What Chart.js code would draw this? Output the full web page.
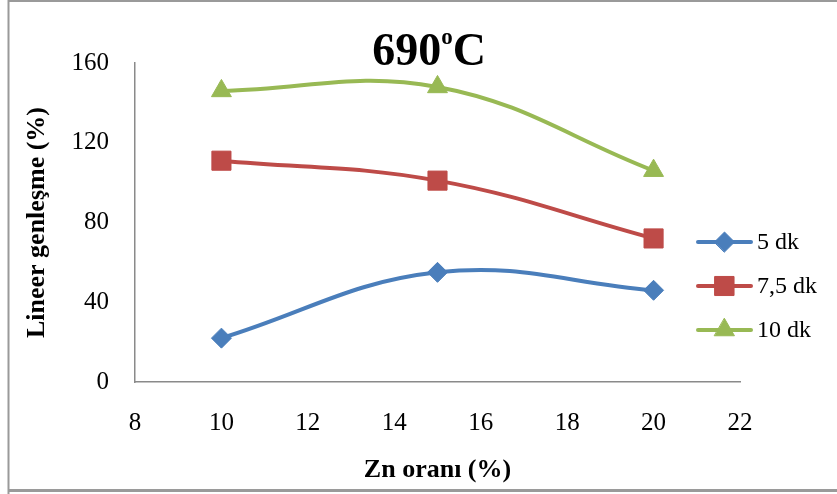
<!DOCTYPE html>
<html>
<head>
<meta charset="utf-8">
<script src="https://cdn.jsdelivr.net/npm/chart.js@4/dist/chart.umd.min.js"></script>
<style>
  html, body { margin: 0; padding: 0; background: #ffffff; }
  #wrap { position: relative; width: 837px; height: 494px; }
</style>
</head>
<body>
<div id="wrap"><canvas id="c" width="837" height="494"></canvas></div>
<script>
// Zn content (%) on the x axis
const znRatio = [10, 15, 20];
// Linear expansion (%) per holding time
const series5dk = [22, 55, 46];
const series75dk = [111, 101, 72];
const series10dk = [146, 148, 106];
const seriesNames = ['5 dk', '7,5 dk', '10 dk'];
const xTickValues = [8, 10, 12, 14, 16, 18, 20, 22];
const yTickValues = [0, 40, 80, 120, 160];

const SERIF = '"Liberation Serif", "Times New Roman", serif';
const COLORS = ['#4A7EBB', '#BE4B48', '#98B954'];
const STYLES = [
  { pointStyle: 'rectRot', radius: 10 },
  { pointStyle: 'rect', radius: 13.5 },
  { pointStyle: 'triangle', radius: 11.5 }
];

function toPoints(xs, ys) {
  return xs.map((x, i) => ({ x: x, y: ys[i] }));
}

function makeDataset(i, values) {
  return {
    label: seriesNames[i],
    data: toPoints(znRatio, values),
    borderColor: COLORS[i],
    backgroundColor: COLORS[i],
    borderWidth: 4,
    borderCapStyle: 'round',
    tension: 0.4,
    pointStyle: STYLES[i].pointStyle,
    pointRadius: STYLES[i].radius,
    pointHoverRadius: STYLES[i].radius,
    pointBorderWidth: 1,
    pointBorderColor: COLORS[i],
    pointBackgroundColor: COLORS[i]
  };
}

// Gray frame around the figure
const framePlugin = {
  id: 'frame',
  beforeDraw(chart) {
    const ctx = chart.ctx;
    ctx.save();
    ctx.strokeStyle = '#9a9a9a';
    ctx.lineWidth = 2;
    ctx.beginPath();
    ctx.moveTo(8.5, 494);
    ctx.lineTo(8.5, 1);
    ctx.lineTo(837, 1);
    ctx.stroke();
    ctx.lineWidth = 3;
    ctx.beginPath();
    ctx.moveTo(8, 490.5);
    ctx.lineTo(837, 490.5);
    ctx.stroke();
    ctx.restore();
  }
};

// Title "690°C" with a raised "o"
const titlePlugin = {
  id: 'supTitle',
  afterDraw(chart) {
    const ctx = chart.ctx;
    ctx.save();
    ctx.fillStyle = '#000000';
    ctx.textBaseline = 'alphabetic';
    ctx.textAlign = 'left';
    const big = 'bold 46px ' + SERIF;
    const small = 'bold 23px ' + SERIF;
    ctx.font = big;
    const wMain = ctx.measureText('690').width;
    const wC = ctx.measureText('C').width;
    ctx.font = small;
    const wO = ctx.measureText('o').width;
    const total = wMain + wO + wC;
    let x = 429 - total / 2;
    const base = 65;
    ctx.font = big;
    ctx.fillText('690', x, base);
    x += wMain;
    ctx.font = small;
    ctx.fillText('o', x, base - 21);
    x += wO;
    ctx.font = big;
    ctx.fillText('C', x, base);
    ctx.restore();
  }
};

function drawMarker(ctx, style, color, x, y) {
  const h = Chart.helpers;
  if (h && h.drawPoint) {
    ctx.fillStyle = color;
    ctx.strokeStyle = color;
    ctx.lineWidth = 1;
    h.drawPoint(ctx, { pointStyle: style.pointStyle, radius: style.radius, borderWidth: 1, rotation: 0 }, x, y);
    return;
  }
  const r = style.radius;
  ctx.fillStyle = color;
  ctx.beginPath();
  if (style.pointStyle === 'rectRot') {
    ctx.moveTo(x - r, y); ctx.lineTo(x, y - r); ctx.lineTo(x + r, y); ctx.lineTo(x, y + r);
  } else if (style.pointStyle === 'rect') {
    const s = r * Math.SQRT1_2;
    ctx.rect(x - s, y - s, 2 * s, 2 * s);
  } else {
    ctx.moveTo(x, y - r);
    ctx.lineTo(x + r * Math.sin(2 * Math.PI / 3), y + r / 2);
    ctx.lineTo(x - r * Math.sin(2 * Math.PI / 3), y + r / 2);
  }
  ctx.closePath();
  ctx.fill();
}

// Legend: line sample with marker, then the label
const legendPlugin = {
  id: 'lineLegend',
  afterDraw(chart) {
    const ctx = chart.ctx;
    ctx.save();
    chart.data.datasets.forEach((ds, i) => {
      const y = 242 + i * 44;
      ctx.strokeStyle = ds.borderColor;
      ctx.lineWidth = 4;
      ctx.lineCap = 'round';
      ctx.beginPath();
      ctx.moveTo(698, y);
      ctx.lineTo(751, y);
      ctx.stroke();
      drawMarker(ctx, STYLES[i], ds.borderColor, 724.5, y);
      ctx.fillStyle = '#000000';
      ctx.font = '24px ' + SERIF;
      ctx.textAlign = 'left';
      ctx.textBaseline = 'middle';
      ctx.fillText(ds.label, 757, y + 1);
    });
    ctx.restore();
  }
};

new Chart(document.getElementById('c'), {
  type: 'line',
  data: {
    datasets: [
      makeDataset(0, series5dk),
      makeDataset(1, series75dk),
      makeDataset(2, series10dk)
    ]
  },
  options: {
    responsive: false,
    animation: false,
    devicePixelRatio: 1,
    layout: { padding: { left: 0, top: 63, right: 97, bottom: 0 } },
    plugins: {
      legend: { display: false },
      title: { display: false },
      tooltip: { enabled: false }
    },
    scales: {
      x: {
        type: 'linear',
        min: 8,
        max: 22,
        afterBuildTicks(scale) { scale.ticks = xTickValues.map(v => ({ value: v })); },
        afterFit(scale) { scale.height = 112; },
        grid: { display: false },
        border: { display: true, color: '#8a8a8a', width: 1.5 },
        ticks: {
          color: '#000000',
          font: { family: SERIF, size: 25 },
          padding: 18,
          maxRotation: 0
        },
        title: {
          display: true,
          text: 'Zn oranı (%)',
          color: '#000000',
          font: { family: SERIF, size: 26, weight: 'bold' },
          padding: { top: 0, bottom: 8 }
        }
      },
      y: {
        type: 'linear',
        min: 0,
        max: 160,
        afterBuildTicks(scale) { scale.ticks = yTickValues.map(v => ({ value: v })); },
        afterFit(scale) { scale.width = 135; },
        grid: { display: false },
        border: { display: true, color: '#8a8a8a', width: 1.5 },
        ticks: {
          color: '#000000',
          font: { family: SERIF, size: 25 },
          padding: 18
        },
        title: {
          display: true,
          text: 'Lineer genleşme (%)',
          color: '#000000',
          font: { family: SERIF, size: 26, weight: 'bold' },
          padding: { top: 22, bottom: 0 }
        }
      }
    }
  },
  plugins: [framePlugin, titlePlugin, legendPlugin]
});
</script>
</body>
</html>
